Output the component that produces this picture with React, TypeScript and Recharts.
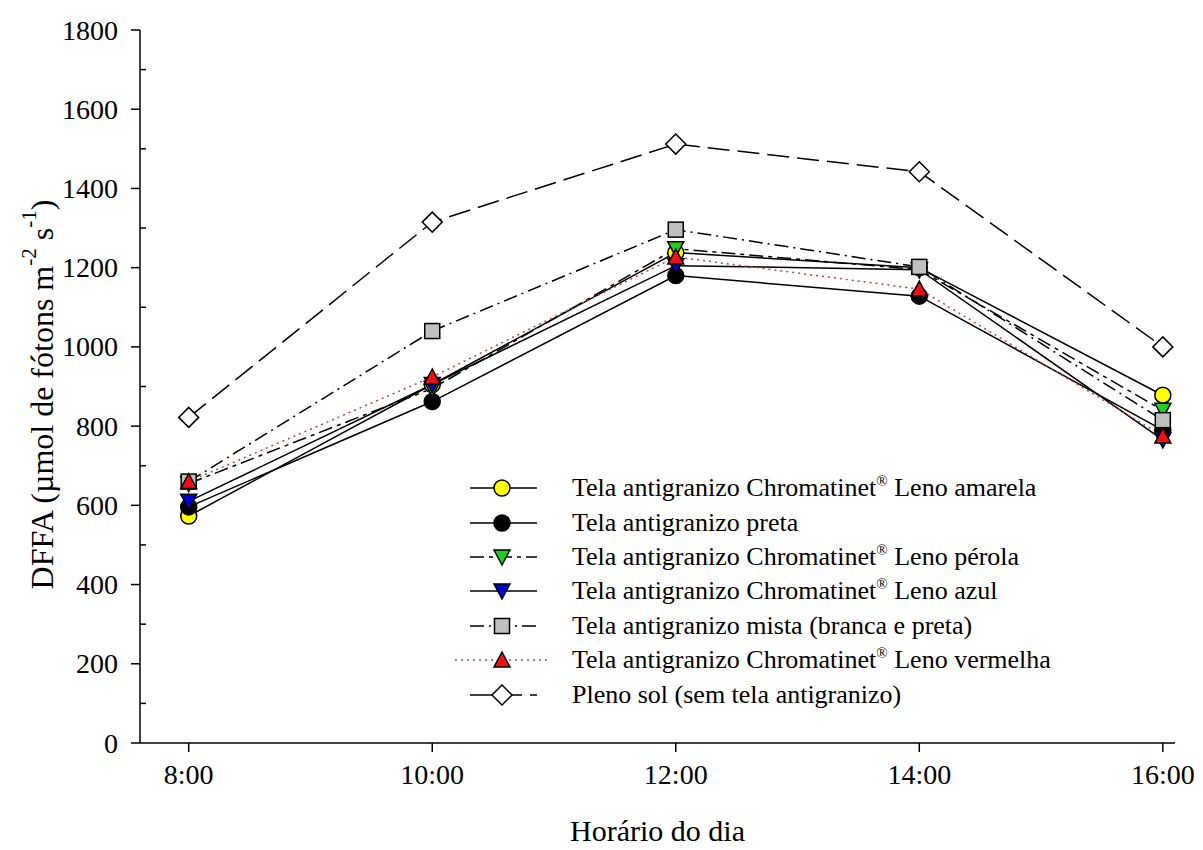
import React from "react";
import { LineChart, Line, XAxis, YAxis, Label } from "recharts";

const FONT = '"Liberation Serif", "Times New Roman", serif';

// horas do dia (eixo x)
const hours = [8, 10, 12, 14, 16];
const hourLabels = ["8:00", "10:00", "12:00", "14:00", "16:00"];
const yTicks = [
  0, 100, 200, 300, 400, 500, 600, 700, 800, 900, 1000, 1100, 1200, 1300,
  1400, 1500, 1600, 1700, 1800,
];

// DFFA por tratamento
const amarela = [573, 905, 1238, 1200, 878];
const preta = [596, 862, 1180, 1128, 790];
const perola = [655, 895, 1248, 1195, 840];
const azul = [610, 905, 1205, 1195, 765];
const mista = [660, 1040, 1296, 1202, 815];
const vermelha = [660, 924, 1227, 1146, 775];
const plenoSol = [822, 1315, 1512, 1442, 1000];

type Shape = "circle" | "triangleDown" | "triangleUp" | "square" | "diamond";

interface SeriesDef {
  key: string;
  label: React.ReactNode;
  values: number[];
  shape: Shape;
  fill: string;
  lineColor: string;
  dash?: string;
}

const sup = (s: string) => (
  <sup style={{ fontSize: 15, verticalAlign: "super", lineHeight: 0 }}>{s}</sup>
);

const series: SeriesDef[] = [
  {
    key: "amarela",
    label: <>Tela antigranizo Chromatinet{sup("®")} Leno amarela</>,
    values: amarela,
    shape: "circle",
    fill: "#ffff00",
    lineColor: "#000",
  },
  {
    key: "preta",
    label: <>Tela antigranizo preta</>,
    values: preta,
    shape: "circle",
    fill: "#000000",
    lineColor: "#000",
  },
  {
    key: "perola",
    label: <>Tela antigranizo Chromatinet{sup("®")} Leno pérola</>,
    values: perola,
    shape: "triangleDown",
    fill: "#22cc22",
    lineColor: "#000",
    dash: "14 5 4 5",
  },
  {
    key: "azul",
    label: <>Tela antigranizo Chromatinet{sup("®")} Leno azul</>,
    values: azul,
    shape: "triangleDown",
    fill: "#0000cc",
    lineColor: "#000",
  },
  {
    key: "mista",
    label: <>Tela antigranizo mista (branca e preta)</>,
    values: mista,
    shape: "square",
    fill: "#c0c0c0",
    lineColor: "#000",
    dash: "14 5 2 5",
  },
  {
    key: "vermelha",
    label: <>Tela antigranizo Chromatinet{sup("®")} Leno vermelha</>,
    values: vermelha,
    shape: "triangleUp",
    fill: "#ee1111",
    lineColor: "#c04040",
    dash: "2 4",
  },
  {
    key: "pleno",
    label: <>Pleno sol (sem tela antigranizo)</>,
    values: plenoSol,
    shape: "diamond",
    fill: "#ffffff",
    lineColor: "#000",
    dash: "22 8",
  },
];

const data = hours.map((h, i) => {
  const row: Record<string, number> = { hour: h };
  series.forEach((s) => {
    row[s.key] = s.values[i];
  });
  return row;
});

function Marker({
  cx,
  cy,
  shape,
  fill,
}: {
  cx: number;
  cy: number;
  shape: Shape;
  fill: string;
}) {
  const common = { fill, stroke: "#000", strokeWidth: 1.5 };
  switch (shape) {
    case "circle":
      return <circle cx={cx} cy={cy} r={8} {...common} />;
    case "triangleDown":
      return (
        <polygon
          points={`${cx - 8},${cy - 7} ${cx + 8},${cy - 7} ${cx},${cy + 8}`}
          {...common}
        />
      );
    case "triangleUp":
      return (
        <polygon
          points={`${cx - 8},${cy + 7} ${cx + 8},${cy + 7} ${cx},${cy - 8}`}
          {...common}
        />
      );
    case "square":
      return <rect x={cx - 7.5} y={cy - 7.5} width={15} height={15} {...common} />;
    case "diamond":
      return (
        <polygon
          points={`${cx},${cy - 10} ${cx + 10},${cy} ${cx},${cy + 10} ${cx - 10},${cy}`}
          {...common}
        />
      );
  }
}

const renderDot = (s: SeriesDef) => (props: any) => {
  const { cx, cy, index } = props;
  if (cx == null || cy == null) return <g key={`${s.key}-${index}`} />;
  return (
    <g key={`${s.key}-${index}`}>
      <Marker cx={cx} cy={cy} shape={s.shape} fill={s.fill} />
    </g>
  );
};

// major ticks outward with labels, minor ticks inward
function YTick(props: any) {
  const { x, y, payload } = props;
  const axisX = x + 22;
  const major = payload.value % 200 === 0;
  return (
    <g>
      {major ? (
        <line x1={axisX - 9} x2={axisX} y1={y} y2={y} stroke="#000" strokeWidth={1.5} />
      ) : (
        <line x1={axisX} x2={axisX + 6} y1={y} y2={y} stroke="#000" strokeWidth={1.5} />
      )}
      {major && (
        <text
          x={x}
          y={y}
          textAnchor="end"
          dominantBaseline="central"
          fontSize={28}
          fontFamily={FONT}
          fill="#000"
        >
          {payload.value}
        </text>
      )}
    </g>
  );
}

function YLabel(props: any) {
  const vb = props.viewBox || { x: 0, y: 30, width: 140, height: 713 };
  const cx = vb.x + 42;
  const cy = vb.y + vb.height / 2 + 8;
  return (
    <text
      x={cx}
      y={cy}
      transform={`rotate(-90, ${cx}, ${cy})`}
      textAnchor="middle"
      dominantBaseline="central"
      fontSize={32}
      fontFamily={FONT}
      fill="#000"
    >
      DFFA (µmol de fótons m
      <tspan dy={-13} fontSize={21}>
        -2
      </tspan>
      <tspan dy={13}> s</tspan>
      <tspan dy={-13} fontSize={21}>
        -1
      </tspan>
      <tspan dy={13}>)</tspan>
    </text>
  );
}

function LegendSample({ s }: { s: SeriesDef }) {
  return (
    <svg width={117} height={34} style={{ flexShrink: 0 }}>
      <line
        x1={s.dash === "2 4" ? 0 : 15}
        x2={s.dash === "2 4" ? 92 : 82}
        y1={17}
        y2={17}
        stroke={s.lineColor}
        strokeWidth={1.5}
        strokeDasharray={s.dash}
      />
      <Marker cx={47} cy={17} shape={s.shape} fill={s.fill} />
    </svg>
  );
}

function ChartLegend() {
  return (
    <div
      style={{
        position: "absolute",
        left: 455,
        top: 471,
        fontFamily: FONT,
        fontSize: 26,
        color: "#000",
      }}
    >
      {series.map((s) => (
        <div
          key={s.key}
          style={{ display: "flex", alignItems: "center", height: 34.4, whiteSpace: "nowrap" }}
        >
          <LegendSample s={s} />
          <span style={{ lineHeight: "34px" }}>{s.label}</span>
        </div>
      ))}
    </div>
  );
}

export default function App() {
  return (
    <div
      style={{
        position: "absolute",
        left: 0,
        top: 0,
        width: 1203,
        height: 850,
        background: "#fff",
      }}
    >
      <LineChart
        width={1203}
        height={850}
        data={data}
        margin={{ top: 30, right: 28, bottom: 0, left: 0 }}
      >
        <XAxis
          dataKey="hour"
          type="number"
          domain={[7.6, 16.1]}
          ticks={hours}
          tickFormatter={(v: number) => hourLabels[hours.indexOf(v)]}
          height={107}
          tickSize={9}
          tickMargin={12}
          axisLine={{ stroke: "#000", strokeWidth: 1.5 }}
          tickLine={{ stroke: "#000", strokeWidth: 1.5 }}
          tick={{ fill: "#000", fontSize: 28, fontFamily: FONT }}
        >
          <Label
            value="Horário do dia"
            position="insideBottom"
            offset={9}
            style={{ fontSize: 30, fontFamily: FONT, fill: "#000" }}
          />
        </XAxis>
        <YAxis
          type="number"
          domain={[0, 1800]}
          ticks={yTicks}
          interval={0}
          width={140}
          tickSize={9}
          tickMargin={13}
          tickLine={false}
          axisLine={{ stroke: "#000", strokeWidth: 1.5 }}
          tick={<YTick />}
        >
          <Label content={<YLabel />} />
        </YAxis>
        {series.map((s) => (
          <Line
            key={s.key}
            dataKey={s.key}
            type="linear"
            stroke={s.lineColor}
            strokeWidth={1.5}
            strokeDasharray={s.dash}
            dot={renderDot(s)}
            activeDot={false}
            isAnimationActive={false}
          />
        ))}
      </LineChart>
      <ChartLegend />
    </div>
  );
}
